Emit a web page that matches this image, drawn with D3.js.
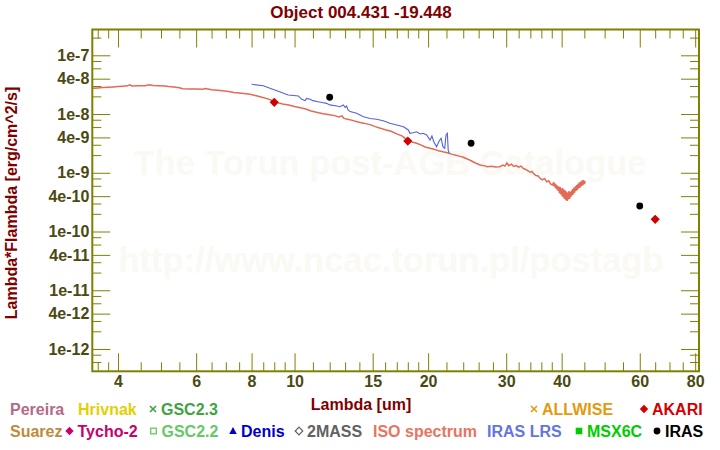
<!DOCTYPE html>
<html>
<head>
<meta charset="utf-8">
<script src="https://cdn.jsdelivr.net/npm/d3@7"></script>
<style>
  html, body { margin: 0; padding: 0; background: #ffffff; }
  svg { display: block; }
</style>
</head>
<body>
<svg id="chart" width="720" height="450"></svg>
<script>
// ---------------- DATA ----------------
const chartTitle = "Object 004.431 -19.448";
const xAxisTitle = "Lambda [um]";
const yAxisTitle = "Lambda*Flambda [erg/cm^2/s]";
const watermarkLines = ["The Torun post-AGB Catalogue", "http://www.ncac.torun.pl/postagb"];

const xLimits = [3.5, 81.6];
const yLimits = [4.17e-13, 2.75e-7];

const xMajorTicks = [4, 6, 8, 10, 15, 20, 30, 40, 60, 80];
const xMinorTicks = [3.6, 3.8, 4.5, 5, 5.5, 6.5, 7, 7.5, 8.5, 9, 9.5, 11, 12, 13, 14, 16, 17, 18, 19,
                     22, 24, 26, 28, 32, 34, 36, 38, 45, 50, 55, 65, 70, 75];
const yMajorTicks = [1e-7, 4e-8, 1e-8, 4e-9, 1e-9, 4e-10, 1e-10, 4e-11, 1e-11, 4e-12, 1e-12];
const yTickLabels = ["1e-7", "4e-8", "1e-8", "4e-9", "1e-9", "4e-10", "1e-10", "4e-11", "1e-11", "4e-12", "1e-12"];
const yMinorMantissas = [2, 3, 6, 8];
const yMinorDecades = [-13, -12, -11, -10, -9, -8, -7];

// ISO spectrum [wavelength um, lambda*F_lambda]
const isoSpectrum = [
  [3.50,2.74e-8],[3.60,2.78e-8],[3.70,2.82e-8],[3.80,2.86e-8],[3.90,2.90e-8],[4.00,2.93e-8],
  [4.10,2.97e-8],[4.20,3.02e-8],[4.25,3.14e-8],[4.30,3.00e-8],[4.45,3.02e-8],[4.60,3.04e-8],
  [4.70,3.15e-8],[4.80,3.05e-8],[4.95,3.04e-8],[5.10,3.00e-8],[5.20,2.94e-8],[5.35,2.88e-8],
  [5.50,2.80e-8],[5.60,2.70e-8],[5.80,2.67e-8],[6.00,2.66e-8],[6.20,2.64e-8],[6.30,2.72e-8],
  [6.50,2.60e-8],[6.80,2.52e-8],[7.10,2.42e-8],[7.30,2.32e-8],[7.60,2.25e-8],[7.94,2.17e-8],
  [8.20,2.05e-8],[8.40,1.95e-8],[8.67,1.83e-8],[8.90,1.70e-8],[9.10,1.58e-8],[9.40,1.48e-8],
  [9.70,1.42e-8],[10.0,1.34e-8],[10.3,1.28e-8],[10.6,1.22e-8],[10.9,1.13e-8],[11.2,1.07e-8],
  [11.6,1.01e-8],[12.0,9.7e-9],[12.3,9.4e-9],[12.6,8.9e-9],[12.8,9.3e-9],[12.9,8.5e-9],
  [13.1,8.2e-9],[13.5,7.8e-9],[13.9,7.3e-9],[14.3,7.0e-9],[14.8,6.6e-9],[15.2,6.1e-9],
  [15.6,5.75e-9],[16.0,5.4e-9],[16.5,5.1e-9],[17.0,4.6e-9],[17.5,4.2e-9],[18.0,3.55e-9],
  [18.4,3.35e-9],[18.85,3.18e-9],[19.3,2.95e-9],[19.7,2.75e-9],[20.2,2.61e-9],[20.7,2.50e-9],
  [21.1,2.38e-9],[21.6,2.28e-9],[22.1,2.20e-9],[22.6,2.08e-9],[23.0,2.00e-9],[23.5,1.92e-9],
  [24.0,1.84e-9],[24.5,1.72e-9],[25.0,1.60e-9],[25.5,1.48e-9],[26.2,1.36e-9],[26.8,1.31e-9],
  [27.2,1.27e-9],[27.8,1.29e-9],[28.4,1.25e-9],[29.0,1.27e-9],[29.5,1.35e-9],[29.8,1.30e-9],
  [30.1,1.47e-9],[30.4,1.32e-9],[30.8,1.40e-9],[31.2,1.28e-9],[31.6,1.33e-9],[32.0,1.25e-9],
  [32.4,1.30e-9],[32.8,1.18e-9],[33.2,1.14e-9],[33.6,1.08e-9],[34.0,1.02e-9],[34.3,1.05e-9],
  [34.6,9.6e-10],[35.0,9.0e-10],[35.4,8.8e-10],[35.8,8.0e-10],[36.2,7.6e-10],[36.6,8.0e-10],
  [37.0,7.0e-10],[37.4,7.3e-10],[37.8,6.4e-10],[38.2,6.2e-10],[38.35,6.9e-10],[38.5,5.9e-10],
  [38.6,6.6e-10],[38.75,5.5e-10],[38.9,6.3e-10],[39.0,5.2e-10],[39.15,6.0e-10],[39.3,4.9e-10],
  [39.4,5.8e-10],[39.55,4.5e-10],[39.7,5.7e-10],[39.8,4.3e-10],[39.95,5.4e-10],[40.1,4.0e-10],
  [40.2,5.5e-10],[40.35,3.8e-10],[40.5,5.2e-10],[40.6,3.6e-10],[40.75,5.0e-10],[40.9,3.4e-10],
  [41.0,4.8e-10],[41.15,3.3e-10],[41.3,4.6e-10],[41.4,3.5e-10],[41.55,4.9e-10],[41.7,3.6e-10],
  [41.8,4.7e-10],[41.95,3.9e-10],[42.1,5.0e-10],[42.2,4.1e-10],[42.35,5.3e-10],[42.5,4.3e-10],
  [42.65,5.6e-10],[42.8,4.6e-10],[42.95,5.9e-10],[43.1,4.9e-10],[43.25,6.2e-10],[43.4,5.1e-10],
  [43.55,6.5e-10],[43.7,5.4e-10],[43.85,6.9e-10],[44.0,5.6e-10],[44.15,7.1e-10],[44.3,5.9e-10],
  [44.5,7.4e-10],[44.65,6.1e-10],[44.8,7.5e-10],[45.0,6.4e-10],[45.2,7.2e-10]
];

// IRAS LRS spectrum [wavelength um, lambda*F_lambda]
const irasLrsSpectrum = [
  [8.0,3.21e-8],[8.5,3.04e-8],[9.12,2.50e-8],[9.68,2.11e-8],[10.2,2.03e-8],[10.38,1.78e-8],
  [10.56,1.69e-8],[10.65,1.85e-8],[10.84,1.78e-8],[11.0,1.69e-8],[11.3,1.62e-8],[11.6,1.56e-8],
  [11.8,1.52e-8],[12.0,1.43e-8],[12.45,1.37e-8],[12.66,1.33e-8],[12.88,1.43e-8],[13.0,1.30e-8],
  [13.1,1.37e-8],[13.2,1.17e-8],[13.34,1.10e-8],[13.8,1.03e-8],[14.3,9.0e-9],[14.8,8.4e-9],
  [15.3,8.14e-9],[15.85,7.7e-9],[16.4,6.96e-9],[17.0,6.5e-9],[17.6,6.09e-9],[18.05,5.36e-9],
  [18.2,4.70e-9],[18.5,4.8e-9],[18.85,5.0e-9],[19.2,4.57e-9],[19.5,4.70e-9],[19.85,4.40e-9],
  [20.2,3.61e-9],[20.4,4.22e-9],[20.6,3.38e-9],[20.9,2.78e-9],[21.2,3.51e-9],[21.4,3.86e-9],
  [21.6,2.78e-9],[21.8,2.61e-9],[21.95,4.40e-9],[22.1,4.70e-9],[22.2,2.43e-9],[22.3,2.15e-9]
];

const akariWave = [9, 18, 65];
const akariFlux = [1.58e-8, 3.47e-9, 1.61e-10];
const irasWave = [12, 25, 60];
const irasFlux = [1.93e-8, 3.18e-9, 2.72e-10];

// Legend entries: [label, colour, marker]
const legendRow1 = [
  ["Pereira", "#b46a88", null],
  ["Hrivnak", "#e3d000", null],
  ["GSC2.3", "#3fa43f", "cross"],
  ["ALLWISE", "#e39a10", "cross"],
  ["AKARI", "#d40000", "diamond"]
];
const legendRow2 = [
  ["Suarez", "#c08a3c", null],
  ["Tycho-2", "#c8006c", "diamond"],
  ["GSC2.2", "#66c866", "square-open"],
  ["Denis", "#0000c8", "triangle"],
  ["2MASS", "#626262", "diamond-open"],
  ["ISO spectrum", "#e87462", null],
  ["IRAS LRS", "#6474e0", null],
  ["MSX6C", "#00cc00", "square"],
  ["IRAS", "#000000", "circle"]
];

// ---------------- LAYOUT / STYLE ----------------
const FONT = "'Liberation Sans', Arial, Helvetica, sans-serif";
const frame = {left: 92.3, right: 699, top: 29.5, bottom: 371.3};
const frameColor = "#808000";
const tickLabelColor = "#4b4912";
const titleColor = "#800000";
const legendRow1TextX = [10, 78, 161, 542, 652];
const legendRow2TextX = [10, 77.5, 161.5, 241, 307, 373, 487, 587, 665];
const legendBaselines = [415, 437];

const svg = d3.select("#chart");
svg.append("rect").attr("width", 720).attr("height", 450).attr("fill", "#ffffff");

const x = d3.scaleLog().domain(xLimits).range([frame.left, frame.right]);
const y = d3.scaleLog().domain(yLimits).range([frame.bottom, frame.top]);

// Watermark
const wm = svg.append("g").attr("font-family", FONT).attr("font-weight", "bold")
  .attr("font-size", 34.5).attr("fill", "#faf9f3").attr("text-anchor", "middle");
wm.append("text").attr("x", 390).attr("y", 175).text(watermarkLines[0]);
wm.append("text").attr("x", 391).attr("y", 272).text(watermarkLines[1]);

// Clip
svg.append("clipPath").attr("id", "plotclip").append("rect")
  .attr("x", frame.left).attr("y", frame.top)
  .attr("width", frame.right - frame.left).attr("height", frame.bottom - frame.top);

const plot = svg.append("g").attr("clip-path", "url(#plotclip)");
const line = d3.line().x(d => x(d[0])).y(d => y(d[1]));

plot.append("path").datum(isoSpectrum).attr("d", line)
  .attr("fill", "none").attr("stroke", "#e26a56").attr("stroke-width", 1.5);
plot.append("path").datum(irasLrsSpectrum).attr("d", line)
  .attr("fill", "none").attr("stroke", "#5362dc").attr("stroke-width", 1.1);

// Markers
const diamondPath = r => `M0,${-r}L${r},0L0,${r}L${-r},0Z`;
plot.selectAll("path.akari").data(akariWave).join("path").attr("class", "akari")
  .attr("d", diamondPath(4.6))
  .attr("transform", (d, i) => `translate(${x(d)},${y(akariFlux[i])})`)
  .attr("fill", "#d00000");
plot.selectAll("circle.iras").data(irasWave).join("circle").attr("class", "iras")
  .attr("cx", d => x(d)).attr("cy", (d, i) => y(irasFlux[i])).attr("r", 3.4)
  .attr("fill", "#000000");

// Axes
function styleAxis(g) {
  g.select(".domain").remove();
  g.selectAll("line").attr("stroke", frameColor).attr("stroke-width", 1);
  g.selectAll("text").attr("fill", tickLabelColor).attr("font-size", 16)
    .attr("font-weight", "bold").attr("font-family", FONT);
}
const yMinorTicks = [];
yMinorDecades.forEach(e => yMinorMantissas.forEach(m => {
  const v = m * Math.pow(10, e);
  if (v > yLimits[0] && v < yLimits[1]) yMinorTicks.push(v);
}));

svg.append("g").attr("transform", `translate(0,${frame.bottom})`)
  .call(d3.axisBottom(x).tickValues(xMajorTicks).tickFormat(d3.format("d"))
    .tickSize(-18).tickSizeOuter(0).tickPadding(4.5)).call(styleAxis);
svg.append("g").attr("transform", `translate(0,${frame.bottom})`)
  .call(d3.axisBottom(x).tickValues(xMinorTicks).tickFormat(() => "")
    .tickSize(-9).tickSizeOuter(0)).call(styleAxis);
svg.append("g").attr("transform", `translate(0,${frame.top})`)
  .call(d3.axisTop(x).tickValues(xMajorTicks).tickFormat(() => "")
    .tickSize(-18).tickSizeOuter(0)).call(styleAxis);
svg.append("g").attr("transform", `translate(0,${frame.top})`)
  .call(d3.axisTop(x).tickValues(xMinorTicks).tickFormat(() => "")
    .tickSize(-9).tickSizeOuter(0)).call(styleAxis);

svg.append("g").attr("transform", `translate(${frame.left},0)`)
  .call(d3.axisLeft(y).tickValues(yMajorTicks).tickFormat((d, i) => yTickLabels[i])
    .tickSize(-18).tickSizeOuter(0).tickPadding(3)).call(styleAxis);
svg.append("g").attr("transform", `translate(${frame.left},0)`)
  .call(d3.axisLeft(y).tickValues(yMinorTicks).tickFormat(() => "")
    .tickSize(-9).tickSizeOuter(0)).call(styleAxis);
svg.append("g").attr("transform", `translate(${frame.right},0)`)
  .call(d3.axisRight(y).tickValues(yMajorTicks).tickFormat(() => "")
    .tickSize(-18).tickSizeOuter(0)).call(styleAxis);
svg.append("g").attr("transform", `translate(${frame.right},0)`)
  .call(d3.axisRight(y).tickValues(yMinorTicks).tickFormat(() => "")
    .tickSize(-9).tickSizeOuter(0)).call(styleAxis);

// Frame
svg.append("rect").attr("x", frame.left).attr("y", frame.top)
  .attr("width", frame.right - frame.left).attr("height", frame.bottom - frame.top)
  .attr("fill", "none").attr("stroke", frameColor).attr("stroke-width", 2);

// Titles
svg.append("text").attr("x", 361).attr("y", 18).attr("text-anchor", "middle")
  .attr("font-family", FONT).attr("font-weight", "bold").attr("font-size", 17)
  .attr("fill", titleColor).text(chartTitle);
svg.append("text").attr("x", 361).attr("y", 410).attr("text-anchor", "middle")
  .attr("font-family", FONT).attr("font-weight", "bold").attr("font-size", 16)
  .attr("fill", titleColor).text(xAxisTitle);
svg.append("text").attr("transform", "translate(17,203) rotate(-90)").attr("text-anchor", "middle")
  .attr("font-family", FONT).attr("font-weight", "bold").attr("font-size", 16)
  .attr("fill", titleColor).text(yAxisTitle);

// Legend
function drawMarker(g, type, cx, cy, color) {
  if (!type) return;
  if (type === "cross") {
    const r = 3;
    g.append("path").attr("d", `M${cx-r},${cy-r}L${cx+r},${cy+r}M${cx-r},${cy+r}L${cx+r},${cy-r}`)
      .attr("stroke", color).attr("stroke-width", 1.6).attr("fill", "none");
  } else if (type === "diamond") {
    g.append("path").attr("d", diamondPath(4.2)).attr("transform", `translate(${cx},${cy})`).attr("fill", color);
  } else if (type === "diamond-open") {
    g.append("path").attr("d", diamondPath(3.8)).attr("transform", `translate(${cx},${cy})`)
      .attr("fill", "none").attr("stroke", color).attr("stroke-width", 1.2);
  } else if (type === "square-open") {
    g.append("rect").attr("x", cx - 2.8).attr("y", cy - 2.8).attr("width", 5.6).attr("height", 5.6)
      .attr("fill", "none").attr("stroke", color).attr("stroke-width", 1.3);
  } else if (type === "square") {
    g.append("rect").attr("x", cx - 3.3).attr("y", cy - 3.3).attr("width", 6.6).attr("height", 6.6).attr("fill", color);
  } else if (type === "triangle") {
    g.append("path").attr("d", `M${cx},${cy-4}L${cx+3.8},${cy+3}L${cx-3.8},${cy+3}Z`).attr("fill", color);
  } else if (type === "circle") {
    g.append("circle").attr("cx", cx).attr("cy", cy).attr("r", 3.4).attr("fill", color);
  }
}
const legend = svg.append("g").attr("font-family", FONT).attr("font-weight", "bold").attr("font-size", 16);
[[legendRow1, legendRow1TextX, legendBaselines[0]], [legendRow2, legendRow2TextX, legendBaselines[1]]]
  .forEach(([rows, xs, by]) => {
    rows.forEach((item, i) => {
      legend.append("text").attr("x", xs[i]).attr("y", by).attr("fill", item[1]).text(item[0]);
      drawMarker(legend, item[2], xs[i] - 8, by - 6, item[1]);
    });
  });
</script>
</body>
</html>
